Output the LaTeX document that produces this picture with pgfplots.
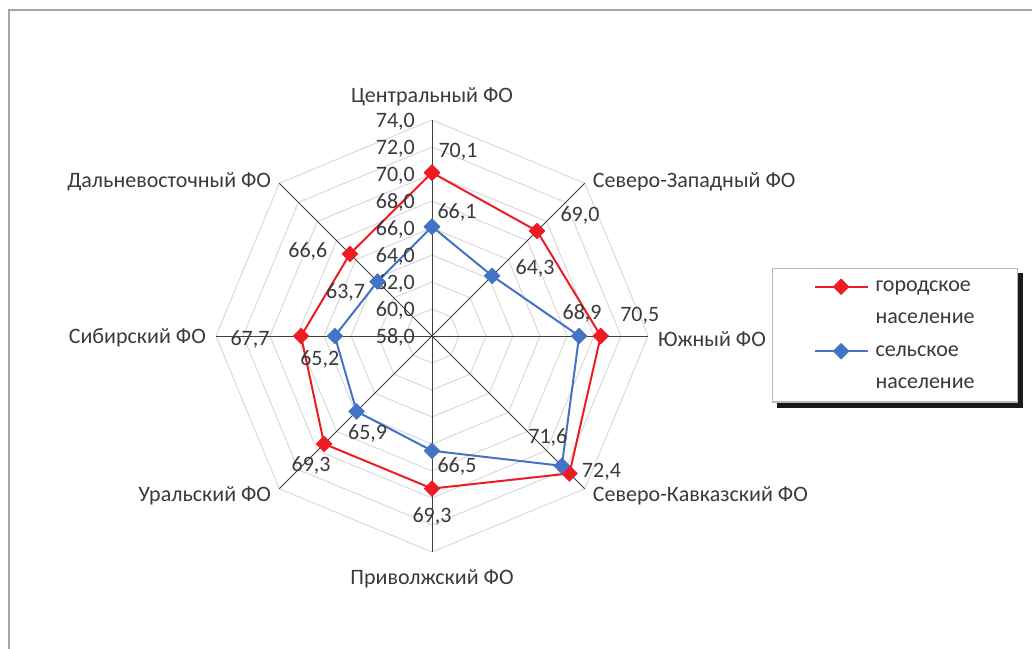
\documentclass[border=0pt]{standalone}
\usepackage{pgfplots}
\pgfplotsset{compat=1.18}
\usepgfplotslibrary{polar}
\usetikzlibrary{backgrounds}
\usepackage{fontspec}
\setmainfont{Carlito}

\definecolor{ured}{HTML}{ED1C24}
\definecolor{rblue}{HTML}{4472C4}
\definecolor{gridc}{HTML}{D9D9D9}
\definecolor{spokec}{HTML}{404040}
\definecolor{framec}{HTML}{A6A6A6}
\definecolor{txt}{HTML}{3A3A3A}

\begin{document}
\begin{tikzpicture}[
    lbl/.style={font=\fontsize{22}{26}\selectfont, text=txt, inner sep=0pt},
  ]
  \path[use as bounding box] (0pt,0pt) rectangle (1032pt,648pt);
  \draw[framec, line width=2pt] (8.5pt,-20pt) -- (8.5pt,637.5pt) -- (1060pt,637.5pt);

  \begin{polaraxis}[
      at={(432pt,312pt)}, anchor=center,
      scale only axis, width=432pt, height=432pt,
      hide axis, clip=false,
      xmin=0, xmax=360,
      ymin=58, ymax=74,
      y coord trafo/.code={\pgfmathparse{#1-58}},
      y coord inv trafo/.code={\pgfmathparse{#1+58}},
      legend style={
        name=leg,
        at={(1.287,0.657)}, anchor=north west,
        draw=framec!80, line width=1.2pt, fill=white,
        font=\fontsize{22}{29}\selectfont, text=txt,
        inner xsep=41pt, inner ysep=10pt, row sep=16pt, column sep=5pt,
        cells={anchor=base west},
      },
      legend image code/.code={
        \draw[mark repeat=2, mark phase=2, #1, yshift=5pt]
          plot coordinates {(0pt,0pt) (26.5pt,0pt) (53pt,0pt)};
      },
    ]

    % octagon rings
    \pgfplotsinvokeforeach{60,62,64,66,68,70,72,74}{
      \addplot[gridc, line width=1pt, forget plot]
        coordinates {(0,#1) (45,#1) (90,#1) (135,#1) (180,#1) (225,#1) (270,#1) (315,#1) (360,#1)};
    }
    % spokes
    \pgfplotsinvokeforeach{0,45,90,135,180,225,270,315}{
      \addplot[spokec, line width=0.9pt, forget plot]
        coordinates {(#1,58) (#1,74)};
    }

    % urban
    \addplot[ured, line width=2pt, mark=square*, mark size=5.6pt,
             mark options={rotate=45, solid, fill=ured, draw=ured, line width=0.5pt}]
      coordinates {(90,70.1) (45,69.0) (0,70.5) (315,72.4) (270,69.3)
                   (225,69.3) (180,67.7) (135,66.6) (90,70.1)};
    \addlegendentry{городское}
    \addlegendimage{empty legend}
    \addlegendentry{население}

    % rural
    \addplot[rblue, line width=2pt, mark=square*, mark size=5.6pt,
             mark options={rotate=45, solid, fill=rblue, draw=rblue, line width=0.5pt}]
      coordinates {(90,66.1) (45,64.3) (0,68.9) (315,71.6) (270,66.5)
                   (225,65.9) (180,65.2) (135,63.7) (90,66.1)};
    \addlegendentry{сельское}
    \addlegendimage{empty legend}
    \addlegendentry{население}

    % radial tick labels
    \pgfplotsinvokeforeach{58,60,62,64,66,68,70,72,74}{
      \node[lbl, anchor=east, xshift=-17pt, yshift=-1.5pt] at (axis cs:90,#1) {#1,0};
    }

    % category labels
    \node[lbl, yshift=23pt] at (axis cs:90,74) {Центральный ФО};
    \node[lbl, anchor=west, xshift=8pt, yshift=1pt] at (axis cs:45,74) {Северо-Западный ФО};
    \node[lbl, anchor=west, xshift=10pt, yshift=-3pt] at (axis cs:0,74) {Южный ФО};
    \node[lbl, anchor=west, xshift=8pt, yshift=-7pt] at (axis cs:315,74) {Северо-Кавказский ФО};
    \node[lbl, yshift=-27pt] at (axis cs:270,74) {Приволжский ФО};
    \node[lbl, anchor=east, xshift=-8pt, yshift=-7pt] at (axis cs:225,74) {Уральский ФО};
    \node[lbl, anchor=east, xshift=-10pt, yshift=-2pt] at (axis cs:180,74) {Сибирский ФО};
    \node[lbl, anchor=east, xshift=-8pt, yshift=1pt] at (axis cs:135,74) {Дальневосточный ФО};

    % data labels, urban
    \node[lbl, xshift=26pt, yshift=21pt] at (axis cs:90,70.1) {70,1};
    \node[lbl, xshift=43pt, yshift=16pt] at (axis cs:45,69.0) {69,0};
    \node[lbl, xshift=39pt, yshift=20pt] at (axis cs:0,70.5) {70,5};
    \node[lbl, xshift=32pt, yshift=2pt] at (axis cs:315,72.4) {72,4};
    \node[lbl, yshift=-28pt] at (axis cs:270,69.3) {69,3};
    \node[lbl, xshift=-13pt, yshift=-22pt] at (axis cs:225,69.3) {69,3};
    \node[lbl, xshift=-51pt, yshift=-3pt] at (axis cs:180,67.7) {67,7};
    \node[lbl, xshift=-42pt, yshift=2pt] at (axis cs:135,66.6) {66,6};

    % data labels, rural
    \node[lbl, xshift=25pt, yshift=14pt] at (axis cs:90,66.1) {66,1};
    \node[lbl, xshift=43pt, yshift=7pt] at (axis cs:45,64.3) {64,3};
    \node[lbl, xshift=3pt, yshift=23pt] at (axis cs:0,68.9) {68,9};
    \node[lbl, xshift=-14pt, yshift=28pt] at (axis cs:315,71.6) {71,6};
    \node[lbl, xshift=25pt, yshift=-16pt] at (axis cs:270,66.5) {66,5};
    \node[lbl, xshift=11pt, yshift=-22pt] at (axis cs:225,65.9) {65,9};
    \node[lbl, xshift=-15pt, yshift=-23pt] at (axis cs:180,65.2) {65,2};
    \node[lbl, xshift=-32pt, yshift=-11pt] at (axis cs:135,63.7) {63,7};
  \end{polaraxis}

  % legend shadow
  \begin{scope}[on background layer]
    \fill[black!90] ([xshift=5pt,yshift=-5pt]leg.south west)
      rectangle ([xshift=5pt,yshift=-5pt]leg.north east);
  \end{scope}
\end{tikzpicture}
\end{document}
